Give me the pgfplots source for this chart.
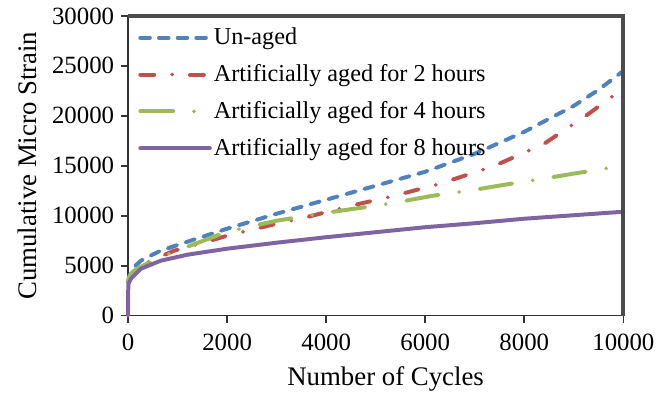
\documentclass[border=0pt]{standalone}
\usepackage{fontspec}
\setmainfont{Liberation Serif}
\usepackage{pgfplots}
\pgfplotsset{compat=1.18}
\definecolor{cblue}{RGB}{79,129,189}
\definecolor{cred}{RGB}{192,80,77}
\definecolor{cgreen}{RGB}{155,187,89}
\definecolor{cpurple}{RGB}{128,100,162}
\begin{document}
\begin{tikzpicture}
\begin{axis}[
  scale only axis,
  width=249.5pt, height=151pt,
  xmin=0, xmax=10000, ymin=0, ymax=30000,
  xtick={0,2000,...,10000}, ytick={0,5000,...,30000},
  scaled ticks=false,
  /pgf/number format/assume math mode=true,
  /pgf/number format/set thousands separator={},
  tick align=outside, major tick length=3.5pt,
  xtick pos=bottom, ytick pos=left,
  axis line style={black!80, line width=0.85pt},
  tick style={black!80, line width=0.85pt},
  ticklabel style={font=\fontsize{12.5}{14}\selectfont},
  xticklabel style={yshift=-2pt},
  xlabel={Number of Cycles},
  ylabel={Cumulative Micro Strain},
  label style={font=\fontsize{13.5}{16}\selectfont},
  xlabel style={at={(axis description cs:0.52,-0.21)}, anchor=center},
  ylabel style={at={(axis description cs:-0.204,0.5)}, anchor=center},
  legend style={at={(axis description cs:0.02,0.968)}, anchor=north west,
    draw=none, fill=none, font=\fontsize{12.2}{14}\selectfont,
    row sep=6.5pt, inner sep=0pt, nodes={inner sep=1pt}},
  legend cell align=left,
  legend image code/.code={\draw[#1] (0pt,0pt) -- (35pt,0pt);},
  every axis plot/.append style={line width=2pt, line cap=round, line join=round},
  clip=false,
]
\addplot[cblue, dash pattern=on 4.8pt off 4.6pt] coordinates {
(0,3300)(20,3900)(60,4300)(150,5000)(260,5500)(450,6000)(660,6500)(1200,7400)(2000,8700)(3000,10200)(4000,11600)(5000,13000)(6000,14400)(7000,16200)(8000,18400)(9000,21000)(9500,22600)(10000,24500)};
\addlegendentry{Un-aged}
\addplot[cred, dash pattern=on 7pt off 9pt on 0pt off 9pt] coordinates {
(0,3200)(20,3700)(60,4100)(150,4700)(260,5000)(460,5500)(930,6500)(1460,7200)(2000,8000)(3000,9200)(3600,9850)(4500,11000)(5300,11900)(6300,13200)(7400,15000)(8400,17200)(9300,20200)(9900,22400)(10000,22800)};
\addlegendentry{Artificially aged for 2 hours}
\addplot[cgreen, dash pattern=on 16.5pt off 10.5pt on 0pt off 10.5pt] coordinates {
(0,3200)(20,3800)(60,4200)(150,4600)(260,4900)(660,5900)(1200,6900)(2000,8400)(3000,9500)(4000,10300)(5000,11000)(5600,11500)(6150,12000)(7000,12600)(7600,13100)(8500,13800)(9100,14300)(10000,15000)};
\addlegendentry{Artificially aged for 4 hours}
\addplot[cpurple] coordinates {
(0,0)(3,2500)(10,3200)(60,3700)(260,4700)(660,5500)(1200,6100)(2000,6700)(3000,7300)(4000,7850)(5000,8350)(6000,8850)(7000,9250)(8000,9700)(9000,10050)(10000,10400)};
\addlegendentry{Artificially aged for 8 hours}
\end{axis}
\draw[black!70, line width=2pt] (current axis.north west) -- (current axis.north east) -- (current axis.south east);
\path ([shift={(-64.5pt,-36.5pt)}]current axis.south west) rectangle ([shift={(16.5pt,8pt)}]current axis.north east);
\end{tikzpicture}
\end{document}
